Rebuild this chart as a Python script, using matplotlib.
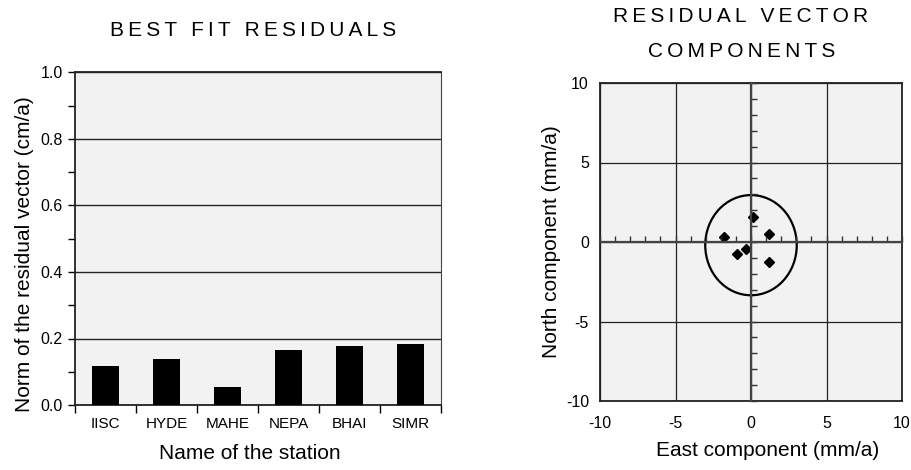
import matplotlib
matplotlib.use('Agg')
import matplotlib.pyplot as plt
from matplotlib.ticker import MultipleLocator, FixedLocator, NullFormatter
from matplotlib.patches import Ellipse

plt.rcParams['font.family'] = ['Liberation Sans', 'DejaVu Sans']
plt.rcParams['axes.unicode_minus'] = False

# Best fit residuals per station (cm/a)
stations = ['IISC', 'HYDE', 'MAHE', 'NEPA', 'BHAI', 'SIMR']
residual_norm = [0.117, 0.138, 0.054, 0.165, 0.177, 0.183]

# Residual vector components (mm/a)
east = [-1.77, 0.11, 1.22, -0.93, -0.33, 1.22]
north = [0.34, 1.60, 0.53, -0.78, -0.46, -1.26]

# Confidence ellipse around the residuals (mm/a)
ell_center = (0.0, -0.2)
ell_width = 6.06
ell_height = 6.30

BG = '#f2f2f2'


def spaced(text):
    # wide letter spacing like the original titles
    return '\u2009 \u2009'.join('\u2009'.join(w) for w in text.split(' '))


fig = plt.figure(figsize=(9.11, 4.70), dpi=100)

# ---------------- left: bar chart ----------------
ax1 = fig.add_axes([75 / 911, 65 / 470, 366 / 911, 332.5 / 470])
ax1.set_facecolor(BG)
x = range(len(stations))
ax1.bar(x, residual_norm, width=0.45, color='black', zorder=3)
ax1.set_xlim(-0.5, len(stations) - 0.5)
ax1.set_ylim(0, 1.0)

ax1.yaxis.set_major_locator(MultipleLocator(0.2))
ax1.yaxis.set_minor_locator(MultipleLocator(0.1))
ax1.set_yticklabels([f'{v:.1f}' for v in ax1.get_yticks()])
ax1.tick_params(axis='y', which='both', direction='out', length=5, width=1,
                labelsize=11.5, pad=4)
ax1.grid(axis='y', which='major', color='#222222', lw=1, zorder=1)

# category separators as major ticks, labels on minor ticks
ax1.xaxis.set_major_locator(FixedLocator([i - 0.5 for i in range(len(stations) + 1)]))
ax1.xaxis.set_major_formatter(NullFormatter())
ax1.xaxis.set_minor_locator(FixedLocator(list(x)))
ax1.set_xticklabels(stations, minor=True)
ax1.tick_params(axis='x', which='major', direction='out', length=6, width=1)
ax1.tick_params(axis='x', which='minor', length=0, labelsize=11, pad=9)

for side in ['left', 'bottom', 'top']:
    ax1.spines[side].set_linewidth(1.3)
    ax1.spines[side].set_color('#222222')
ax1.spines['right'].set_linewidth(0.8)
ax1.spines['right'].set_color('#444444')

ax1.set_ylabel('Norm of the residual vector (cm/a)', fontsize=15)
ax1.yaxis.set_label_coords(-0.112, 0.453)
ax1.set_xlabel('Name of the station', fontsize=15)
ax1.xaxis.set_label_coords(0.477, -0.118)

fig.text(253 / 911, 1 - 31 / 470, spaced('BEST FIT RESIDUALS'), fontsize=15,
         ha='center', va='center')

# ---------------- right: residual vectors ----------------
rect = [600 / 911, 69 / 470, 302 / 911, 318 / 470]
ax2 = fig.add_axes(rect)
ax2.set_facecolor(BG)
ax2.set_xlim(-10, 10)
ax2.set_ylim(-10, 10)
ax2.set_xticks([-10, -5, 0, 5, 10])
ax2.set_yticks([-10, -5, 0, 5, 10])
ax2.tick_params(axis='both', length=0, labelsize=11.5)
ax2.tick_params(axis='x', pad=11)
ax2.tick_params(axis='y', pad=8)
ax2.grid(color='#222222', lw=0.9, zorder=1)
for s in ax2.spines.values():
    s.set_linewidth(1.3)
    s.set_color('#222222')

ax2.add_patch(Ellipse(ell_center, ell_width, ell_height, fill=False,
                      edgecolor='black', lw=1.6, zorder=4))
ax2.plot(east, north, linestyle='None', marker='D', ms=5.5, color='black', zorder=5)

ax2.set_xlabel('East component (mm/a)', fontsize=15)
ax2.xaxis.set_label_coords(0.555, -0.125)
ax2.set_ylabel('North component (mm/a)', fontsize=15)
ax2.yaxis.set_label_coords(-0.129, 0.5)

# zero axes with small ticks, crossing in the middle
axz = fig.add_axes(rect, facecolor='none')
axz.set_xlim(-10, 10)
axz.set_ylim(-10, 10)
axz.spines['left'].set_position(('data', 0))
axz.spines['bottom'].set_position(('data', 0))
axz.spines['top'].set_visible(False)
axz.spines['right'].set_visible(False)
for side in ['left', 'bottom']:
    axz.spines[side].set_linewidth(1.6)
    axz.spines[side].set_color('#444444')
axz.xaxis.set_major_locator(MultipleLocator(1))
axz.yaxis.set_major_locator(MultipleLocator(1))
axz.tick_params(axis='both', direction='in', length=4, width=1, color='#333333',
                labelbottom=False, labelleft=False)

fig.text(741 / 911, 1 - 17 / 470, spaced('RESIDUAL VECTOR'), fontsize=15,
         ha='center', va='center')
fig.text(742 / 911, 1 - 52 / 470, spaced('COMPONENTS'), fontsize=15,
         ha='center', va='center')

fig.savefig('out.png', dpi=100)
